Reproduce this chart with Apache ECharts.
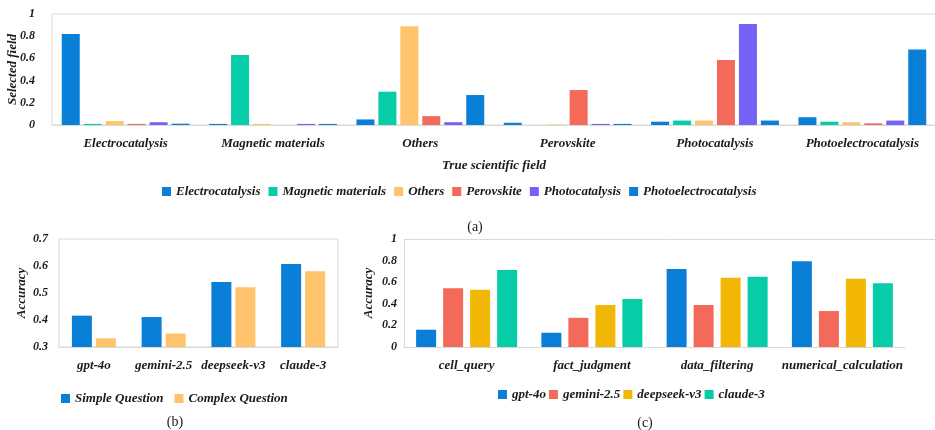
<!DOCTYPE html>
<html>
<head>
<meta charset="utf-8">
<script src="https://cdn.jsdelivr.net/npm/echarts@6/dist/echarts.min.js"></script>
<style>
  html, body { margin: 0; padding: 0; background: #fff; }
  #container { width: 935px; height: 430px; }
</style>
</head>
<body>
<div id="container"></div>
<script>
var dom = document.getElementById("container");
var myChart = echarts.init(dom);
var option;

// (a) true field vs selected field
var fields = ["Electrocatalysis", "Magnetic materials", "Others", "Perovskite", "Photocatalysis", "Photoelectrocatalysis"];
var selElectro = [0.82, 0.01, 0.05, 0.02, 0.03, 0.07];
var selMagnetic = [0.01, 0.63, 0.30, 0, 0.04, 0.03];
var selOthers = [0.035, 0.01, 0.89, 0.004, 0.04, 0.025];
var selPerovskite = [0.01, 0, 0.08, 0.315, 0.585, 0.015];
var selPhotocat = [0.025, 0.01, 0.025, 0.01, 0.91, 0.04];
var selPhotoelectro = [0.012, 0.01, 0.27, 0.01, 0.04, 0.68];

// (b) simple vs complex question
var models = ["gpt-4o", "gemini-2.5", "deepseek-v3", "claude-3"];
var simpleQ = [0.416, 0.411, 0.541, 0.607];
var complexQ = [0.332, 0.35, 0.521, 0.581];

// (c) task types
var tasks = ["cell_query", "fact_judgment", "data_filtering", "numerical_calculation"];
var gpt4o = [0.16, 0.132, 0.722, 0.793];
var gemini = [0.543, 0.27, 0.39, 0.333];
var deepseek = [0.531, 0.39, 0.642, 0.632];
var claude = [0.713, 0.444, 0.651, 0.59];

var BLUE = "#0a7fd8";
var TEAL = "#06cda8";
var ORANGE = "#ffc36b";
var RED = "#f46a5a";
var PURPLE = "#7462f6";
var GOLD = "#f2b705";
var LINE = "#d9d9d9";

var font = {
  fontFamily: "Liberation Serif",
  fontWeight: "bold",
  fontStyle: "italic",
  fontSize: 13,
  color: "#1a1a1a",
};

function bar(name, data, color, axisIdx, width, gap) {
  return {
    name: name,
    type: "bar",
    xAxisIndex: axisIdx,
    yAxisIndex: axisIdx,
    data: data,
    barWidth: width,
    barGap: gap,
    itemStyle: { color: color },
    animation: false,
  };
}

function catAxis(idx, cats, extra) {
  var ax = {
    type: "category",
    gridIndex: idx,
    data: cats,
    axisLine: { lineStyle: { color: LINE } },
    axisTick: { show: false },
    axisLabel: Object.assign({ interval: 0, margin: 12 }, font),
  };
  return Object.assign(ax, extra || {});
}

function valAxis(idx, min, max, step, name, gap, labelMargin) {
  return {
    type: "value",
    gridIndex: idx,
    min: min,
    max: max,
    interval: step,
    name: name,
    nameLocation: "middle",
    nameGap: gap,
    nameMoveOverlap: false,
    nameTextStyle: font,
    axisLine: { show: idx == 2, lineStyle: { color: LINE } },
    axisTick: { show: false },
    splitLine: { show: false },
    axisLabel: Object.assign({}, font, { margin: labelMargin, fontSize: 12 }),
  };
}

var legendText = Object.assign({}, font);
var capStyle = { fontFamily: "Liberation Serif", fontWeight: "normal", fontSize: 14, color: "#1a1a1a" };

option = {
  backgroundColor: "#fff",
  title: [
    { text: "(a)", left: 470, top: 215, textAlign: "center", textStyle: capStyle },
    { text: "(b)", left: 170, top: 410, textAlign: "center", textStyle: capStyle },
    { text: "(c)", left: 640, top: 411, textAlign: "center", textStyle: capStyle },
  ],
  grid: [
    { left: 52, top: 14, right: -1, height: 111, show: true, borderColor: LINE, borderWidth: 1, outerBoundsMode: "none" },
    { left: 59, top: 239, width: 279, height: 108, show: true, borderColor: LINE, borderWidth: 1, outerBoundsMode: "none" },
    { left: 404, top: 239, width: 501, height: 108, outerBoundsMode: "none" },
  ],
  graphic: [
    { type: "line", shape: { x1: 404, y1: 239.5, x2: 935, y2: 239.5 }, style: { stroke: LINE, lineWidth: 1 } },
  ],
  legend: [
    {
      data: fields, left: 157, top: 180, itemWidth: 9, itemHeight: 9, itemGap: 8,
      icon: "rect", textStyle: legendText, selectedMode: false,
    },
    {
      data: ["Simple Question", "Complex Question"], left: 56, top: 387, itemWidth: 9, itemHeight: 9, itemGap: 11,
      icon: "rect", textStyle: legendText, selectedMode: false,
    },
    {
      data: ["gpt-4o", "gemini-2.5", "deepseek-v3", "claude-3"], left: 493, top: 383, itemWidth: 9, itemHeight: 9, itemGap: 3,
      icon: "rect", textStyle: legendText, selectedMode: false,
    },
  ],
  xAxis: [
    catAxis(0, fields, { name: "True scientific field", nameLocation: "middle", nameGap: 34, nameTextStyle: font }),
    catAxis(1, models),
    catAxis(2, tasks),
  ],
  yAxis: [
    valAxis(0, 0, 1, 0.2, "Selected field", 33, 17),
    valAxis(1, 0.3, 0.7, 0.1, "Accuracy", 31, 11),
    valAxis(2, 0, 1, 0.2, "Accuracy", 29, 7),
  ],
  series: [
    bar("Electrocatalysis", selElectro, BLUE, 0, 18, "22%"),
    bar("Magnetic materials", selMagnetic, TEAL, 0, 18, "22%"),
    bar("Others", selOthers, ORANGE, 0, 18, "22%"),
    bar("Perovskite", selPerovskite, RED, 0, 18, "22%"),
    bar("Photocatalysis", selPhotocat, PURPLE, 0, 18, "22%"),
    bar("Photoelectrocatalysis", selPhotoelectro, BLUE, 0, 18, "22%"),

    bar("Simple Question", simpleQ, BLUE, 1, 20, "20%"),
    bar("Complex Question", complexQ, ORANGE, 1, 20, "20%"),

    bar("gpt-4o", gpt4o, BLUE, 2, 20, "35%"),
    bar("gemini-2.5", gemini, RED, 2, 20, "35%"),
    bar("deepseek-v3", deepseek, GOLD, 2, 20, "35%"),
    bar("claude-3", claude, TEAL, 2, 20, "35%"),
  ],
};

myChart.setOption(option);
</script>
</body>
</html>
